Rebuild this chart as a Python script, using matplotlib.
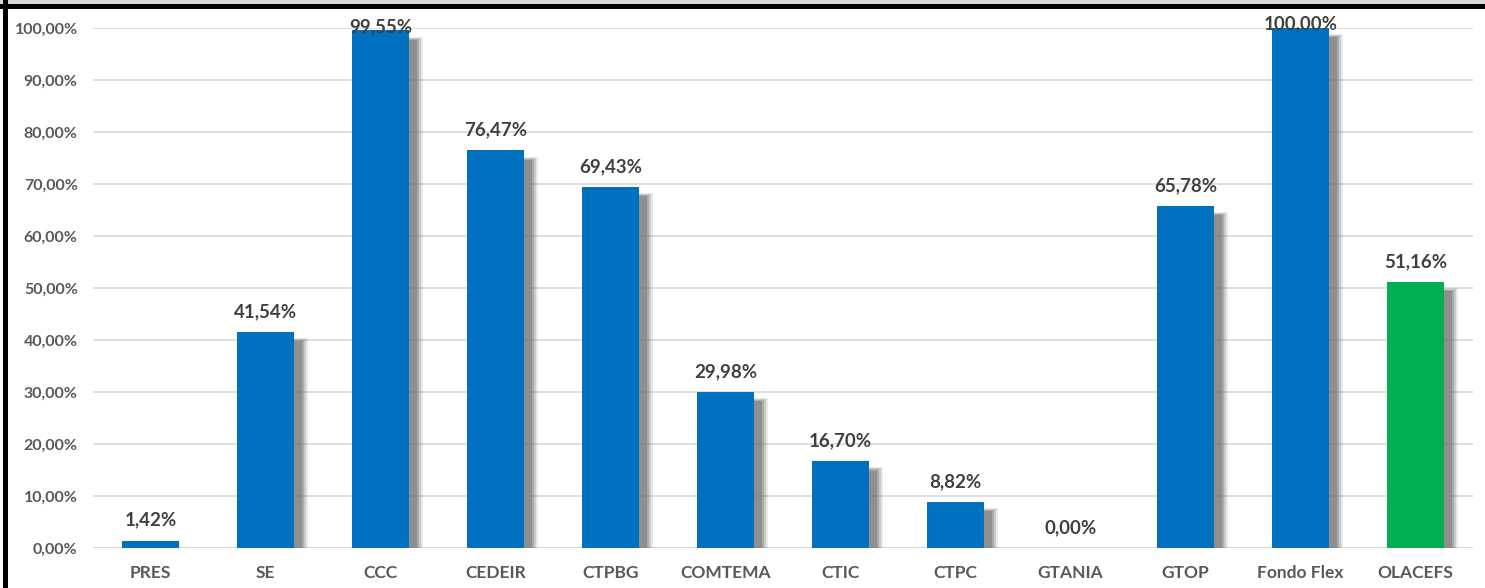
import matplotlib.pyplot as plt
from matplotlib.patches import Rectangle

## DATA
categories = ["PRES", "SE", "CCC", "CEDEIR", "CTPBG", "COMTEMA", "CTIC", "CTPC",
              "GTANIA", "GTOP", "Fondo Flex", "OLACEFS"]
values = [1.42, 41.54, 99.55, 76.47, 69.43, 29.98, 16.70, 8.82, 0.00, 65.78, 100.00, 51.16]
colors = ["#0070C0"] * 11 + ["#00B050"]
ticks = [0, 10, 20, 30, 40, 50, 60, 70, 80, 90, 100]


def pct(v):
    return ("%.2f%%" % v).replace(".", ",")


plt.rcParams["font.family"] = ["Lato", "DejaVu Sans"]

fig = plt.figure(figsize=(14.85, 5.88), dpi=100)
ax = fig.add_axes([93 / 1485, 40 / 588, 1380 / 1485, 520 / 588])

x = list(range(len(categories)))
w = 0.5

## Soft shadow behind the bars (a few stacked translucent rectangles)
for i, v in enumerate(values):
    if v <= 2:
        continue
    layers = [(0.12, 0.15), (0.10, 0.25), (0.085, 0.35), (0.07, 0.45)]
    for k, (ext, a) in enumerate(layers):
        ax.add_patch(Rectangle((i - w / 2 + 0.03, -0.8 + k * 0.15),
                               w + ext - 0.03, v - 0.4 - k * 0.35,
                               facecolor="#707070", alpha=a, lw=0, zorder=1))

ax.bar(x, values, width=w, color=colors, zorder=2)

for i, v in enumerate(values):
    if v >= 99:
        y = v - 0.9
    else:
        y = v + 2.3
    ax.text(i, y, pct(v), ha="center", va="bottom", fontsize=13.5,
            fontweight="bold", color="#404040", zorder=3)

ax.set_xlim(-0.5, len(categories) - 0.5)
ax.set_ylim(0, 100)
ax.set_yticks(ticks)
ax.set_yticklabels([pct(t) for t in ticks], fontsize=11.5, fontweight="bold", color="#595959")
ax.set_xticks(x)
ax.set_xticklabels(categories, fontsize=12.5, fontweight="bold", color="#595959")
ax.tick_params(length=0)
ax.tick_params(axis="y", pad=11)
ax.tick_params(axis="x", pad=12)
ax.grid(axis="y", color="#d9d9d9", lw=1.2, zorder=0)
ax.set_axisbelow(True)
for s in ax.spines.values():
    s.set_visible(False)
ax.axhline(0, color="#d9d9d9", lw=1.5, zorder=0)

## Frame
fig.patches.append(Rectangle((0, 584 / 588), 1, 4 / 588, transform=fig.transFigure,
                             facecolor="#d9d9d9", lw=0))
fig.patches.append(Rectangle((0, 579 / 588), 1, 5 / 588, transform=fig.transFigure,
                             facecolor="black", lw=0))
fig.patches.append(Rectangle((3 / 1485, 0), 5 / 1485, 1, transform=fig.transFigure,
                             facecolor="black", lw=0))

fig.savefig("out.png", dpi=100)
